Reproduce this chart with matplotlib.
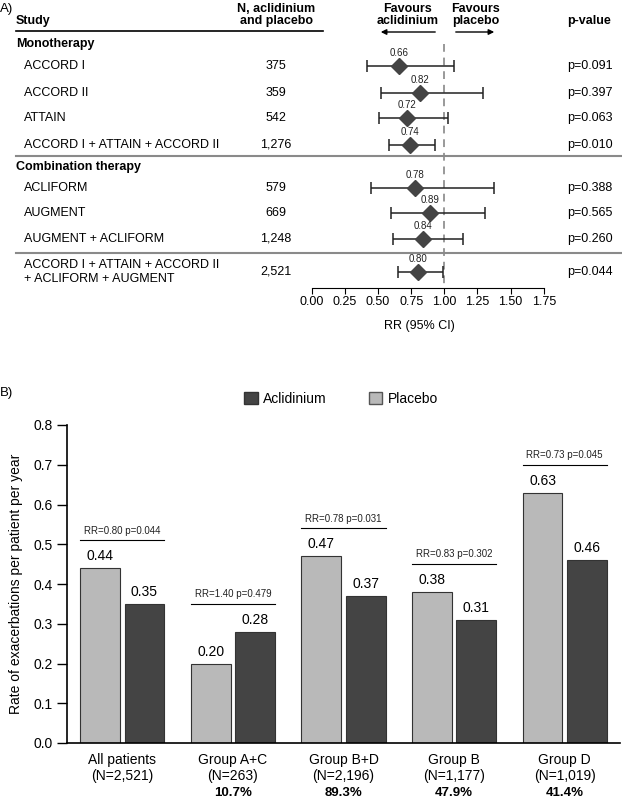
import matplotlib
matplotlib.use("Agg")
import matplotlib.pyplot as plt
from matplotlib.patches import Patch, FancyArrowPatch
from matplotlib.lines import Line2D
from matplotlib.transforms import blended_transform_factory

plt.rcParams['font.family'] = ['Liberation Sans', 'DejaVu Sans']

# ---- panel A data ----
studies = ["ACCORD I", "ACCORD II", "ATTAIN", "ACCORD I + ATTAIN + ACCORD II",
           "ACLIFORM", "AUGMENT", "AUGMENT + ACLIFORM",
           "ACCORD I + ATTAIN + ACCORD II\n+ ACLIFORM + AUGMENT"]
n_pts = ["375", "359", "542", "1,276", "579", "669", "1,248", "2,521"]
rr = [0.66, 0.82, 0.72, 0.74, 0.78, 0.89, 0.84, 0.80]
ci_lo = [0.42, 0.52, 0.51, 0.58, 0.45, 0.60, 0.61, 0.65]
ci_hi = [1.07, 1.29, 1.03, 0.93, 1.375, 1.31, 1.14, 0.99]
p_vals = ["p=0.091", "p=0.397", "p=0.063", "p=0.010",
          "p=0.388", "p=0.565", "p=0.260", "p=0.044"]
row_slot = [1, 2.1, 3.1, 4.2, 5.95, 6.95, 8.0, 9.35]
headers = ["Monotherapy", "Combination therapy"]
header_slot = [0.1, 5.1]

# ---- panel B data ----
groups = ["All patients\n(N=2,521)", "Group A+C\n(N=263)", "Group B+D\n(N=2,196)",
          "Group B\n(N=1,177)", "Group D\n(N=1,019)"]
pct = ["", "10.7%", "89.3%", "47.9%", "41.4%"]
placebo = [0.44, 0.20, 0.47, 0.38, 0.63]
aclid = [0.35, 0.28, 0.37, 0.31, 0.46]
rr_text = ["RR=0.80 p=0.044", "RR=1.40 p=0.479", "RR=0.78 p=0.031",
           "RR=0.83 p=0.302", "RR=0.73 p=0.045"]

W, H = 622, 800
fig = plt.figure(figsize=(6.22, 8.0), dpi=100)


def fx(px):
    return px / W


def fy(py):
    return 1 - py / H


dark = '#444444'
light = '#b9b9b9'

# ================= Panel A =================
ax = fig.add_axes([fx(311.7), fy(288), fx(232), 254 / H])
ax.set_xlim(0, 1.75)
ax.set_ylim(10.0, -0.3)
for s in ['top', 'left', 'right']:
    ax.spines[s].set_visible(False)
ax.set_yticks([])
ax.set_xticks([0, 0.25, 0.5, 0.75, 1.0, 1.25, 1.5, 1.75])
ax.set_xticklabels(['0.00', '0.25', '0.50', '0.75', '1.00', '1.25', '1.50', '1.75'], fontsize=9)
ax.tick_params(axis='x', length=4, pad=2)

ax.plot([1, 1], [0.1, 10.0], ls=(0, (4, 3)), color='#999999', lw=1.4, zorder=1)
xerr = [[r - lo for r, lo in zip(rr, ci_lo)], [hi - r for r, hi in zip(rr, ci_hi)]]
ax.errorbar(rr, row_slot, xerr=xerr, fmt='none', ecolor='#222222', elinewidth=1.1,
            capsize=4, capthick=1.1, zorder=2)
ax.plot(rr, row_slot, 'D', color=dark, ms=8, zorder=3)
for r, s in zip(rr, row_slot):
    ax.text(r, s - 0.33, f"{r:.2f}", ha='center', va='bottom', fontsize=7, color='#222222')

tr = blended_transform_factory(fig.transFigure, ax.transData)
for name, n, p, s in zip(studies, n_pts, p_vals, row_slot):
    ax.text(fx(24), s, name, transform=tr, ha='left', va='center', fontsize=9, linespacing=1.25)
    ax.text(fx(276), s, n, transform=tr, ha='center', va='center', fontsize=9)
    ax.text(fx(567), s, p, transform=tr, ha='left', va='center', fontsize=9)
for h, s in zip(headers, header_slot):
    ax.text(fx(16), s, h, transform=tr, ha='left', va='center', fontsize=9, fontweight='bold')
for s in [4.64, 8.57]:
    ax.add_line(Line2D([fx(16), fx(622)], [s, s], transform=tr, color='#8a8a8a', lw=1.5,
                       clip_on=False))

# header
fig.text(fx(0), fy(9), "A)", ha='left', va='center', fontsize=9.5)
fig.text(fx(16), fy(21), "Study", ha='left', va='center', fontsize=9, fontweight='bold')
fig.text(fx(276), fy(15), "N, aclidinium\nand placebo", ha='center', va='center',
         fontsize=9, fontweight='bold', linespacing=1.1)
fig.text(fx(408), fy(15), "Favours\naclidinium", ha='center', va='center',
         fontsize=9, fontweight='bold', linespacing=1.1)
fig.text(fx(476), fy(15), "Favours\nplacebo", ha='center', va='center',
         fontsize=9, fontweight='bold', linespacing=1.1)
fig.text(fx(567), fy(21), "p-value", ha='left', va='center', fontsize=9, fontweight='bold')
fig.add_artist(Line2D([fx(16), fx(323)], [fy(31), fy(31)], color='black', lw=1.2))
fig.add_artist(FancyArrowPatch((fx(438), fy(32)), (fx(378), fy(32)),
               transform=fig.transFigure, arrowstyle='-|>', mutation_scale=8, lw=1, color='black'))
fig.add_artist(FancyArrowPatch((fx(453), fy(32)), (fx(497), fy(32)),
               transform=fig.transFigure, arrowstyle='-|>', mutation_scale=8, lw=1, color='black'))
fig.text(fx(419), fy(326), "RR (95% CI)", ha='center', va='center', fontsize=9)

# ================= Panel B =================
bx = fig.add_axes([fx(67), fy(743), fx(553), (743 - 425) / H])
xs = list(range(len(groups)))
w = 0.36
off = 0.2
bx.bar([x - off for x in xs], placebo, width=w, color=light, edgecolor='#333333', lw=0.8)
bx.bar([x + off for x in xs], aclid, width=w, color=dark, edgecolor='#333333', lw=0.8)
for x, p, a in zip(xs, placebo, aclid):
    bx.text(x - off, p + 0.012, f"{p:.2f}", ha='center', va='bottom', fontsize=10)
    bx.text(x + off, a + 0.012, f"{a:.2f}", ha='center', va='bottom', fontsize=10)
for x, p, a, t in zip(xs, placebo, aclid, rr_text):
    top = max(p, a) + 0.07
    bx.plot([x - off - w / 2, x + off + w / 2], [top, top], color='black', lw=0.8)
    bx.text(x, top + 0.012, t, ha='center', va='bottom', fontsize=7, color='#222222')

bx.set_xlim(-0.5, 4.5)
bx.set_ylim(0, 0.8)
bx.set_yticks([i / 10 for i in range(9)])
bx.set_yticklabels([f"{i / 10:.1f}" for i in range(9)], fontsize=10)
bx.set_xticks(xs)
bx.set_xticklabels(groups, fontsize=10, linespacing=1.25)
bx.tick_params(axis='x', length=0, pad=7)
bx.tick_params(axis='y', length=7, pad=3, width=1)
bx.spines['top'].set_visible(False)
bx.spines['right'].set_visible(False)
bx.spines['left'].set_linewidth(1.2)
bx.spines['bottom'].set_linewidth(1.2)
bx.set_ylabel("Rate of exacerbations per patient per year", fontsize=10, labelpad=8)

ptr = blended_transform_factory(bx.transData, fig.transFigure)
for x, t in zip(xs, pct):
    bx.text(x, fy(793), t, transform=ptr, ha='center', va='center', fontsize=9.5,
            fontweight='bold')

fig.text(fx(0), fy(393), "B)", ha='left', va='center', fontsize=9.5)
handles = [Patch(facecolor=dark, edgecolor='#333333'), Patch(facecolor=light, edgecolor='#555555')]
fig.legend(handles, ["Aclidinium", "Placebo"], loc='center', bbox_to_anchor=(fx(341), fy(399)),
           ncol=2, frameon=False, fontsize=10, handlelength=1.0, handleheight=1.0,
           handletextpad=0.4, columnspacing=3.0)

fig.savefig("out.png", dpi=100)
